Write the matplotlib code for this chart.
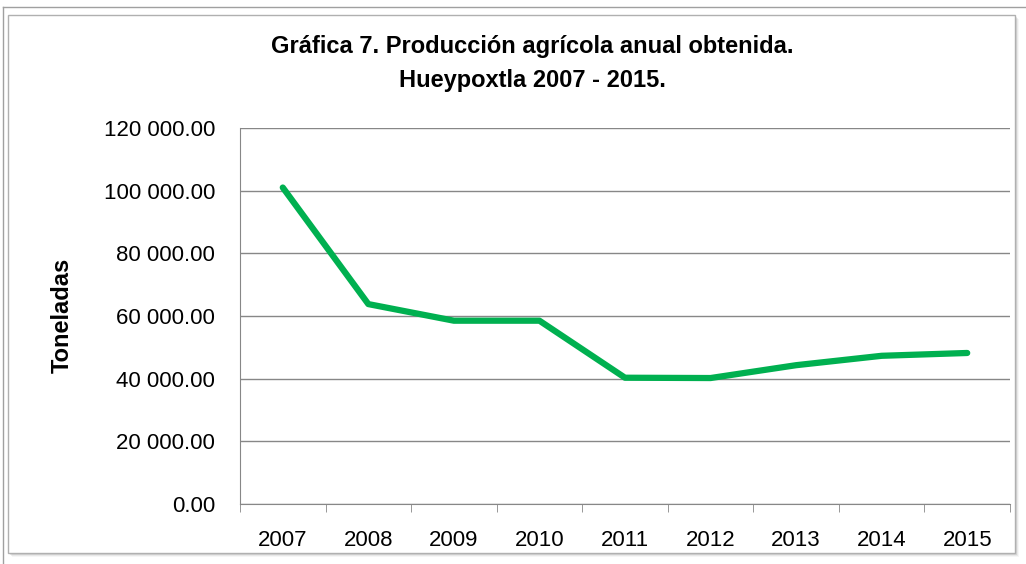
import matplotlib
matplotlib.use("Agg")
import matplotlib.pyplot as plt
from matplotlib.patches import Rectangle
from matplotlib.lines import Line2D

years = ["2007", "2008", "2009", "2010", "2011", "2012", "2013", "2014", "2015"]
toneladas = [101000, 63800, 58500, 58500, 40300, 40200, 44300, 47300, 48200]
yticks = [0, 20000, 40000, 60000, 80000, 100000, 120000]

plt.rcParams['font.family'] = ['Liberation Sans', 'DejaVu Sans']

W, H = 1026, 564
fig = plt.figure(figsize=(W / 100, H / 100), dpi=100)
fig.patch.set_facecolor('white')

def fx(px):
    return px / W

def fy(py):
    return 1 - py / H

# page-like outer lines
fig.add_artist(Line2D([fx(3), fx(1026)], [fy(7), fy(7)], transform=fig.transFigure, color='#a0a0a0', lw=1))
fig.add_artist(Line2D([fx(3), fx(3)], [fy(7), fy(564)], transform=fig.transFigure, color='#a0a0a0', lw=1))

# chart frame with soft shadow
for i, a in enumerate([0.06, 0.10, 0.16]):
    off = 4 - i
    fig.add_artist(Rectangle((fx(8 + off), fy(553 + off)), (1007) / W, (538) / H,
                             transform=fig.transFigure, facecolor='#707070', alpha=a,
                             edgecolor='none', zorder=0))
fig.add_artist(Rectangle((fx(8), fy(553)), 1007 / W, 538 / H, transform=fig.transFigure,
                         facecolor='white', edgecolor='#b0b0b0', linewidth=1.0, zorder=1))

ax = fig.add_axes([fx(240), fy(504), 770 / W, 376 / H])
ax.set_zorder(2)
ax.patch.set_alpha(0)
x = list(range(len(years)))
ax.plot(x, toneladas, color='#00b050', linewidth=4.5, solid_capstyle='round',
        solid_joinstyle='round', zorder=3)

ax.set_xlim(-0.5, len(years) - 0.5)
ax.set_ylim(0, 120000)
ax.set_yticks(yticks)
ax.set_yticklabels([f"{v:,.2f}".replace(",", " ") for v in yticks], fontsize=16)
ax.set_xticks(x)
ax.set_xticklabels(years, fontsize=16)
ax.set_xticks([i - 0.5 for i in range(len(years) + 1)], minor=True)
ax.tick_params(axis='x', which='major', length=0, pad=19)
ax.tick_params(axis='x', which='minor', length=6, color='#878787', direction='out')
ax.tick_params(axis='y', length=0, pad=18)
ax.grid(axis='y', color='#878787', linewidth=1)
ax.set_axisbelow(True)
for s in ['top', 'right']:
    ax.spines[s].set_visible(False)
ax.spines['left'].set_color('#878787')
ax.spines['bottom'].set_color('#878787')

fig.text(fx(62), fy(315), "Toneladas", rotation=90, ha='center', va='center',
         fontsize=17, fontweight='bold')

fig.text(fx(532), fy(46), "Gráfica 7. Producción agrícola anual obtenida.", ha='center', va='center',
         fontsize=17, fontweight='bold')
fig.text(fx(532), fy(81), "Hueypoxtla 2007 - 2015.", ha='center', va='center',
         fontsize=17, fontweight='bold')

fig.savefig("out.png", dpi=100, facecolor='white')
